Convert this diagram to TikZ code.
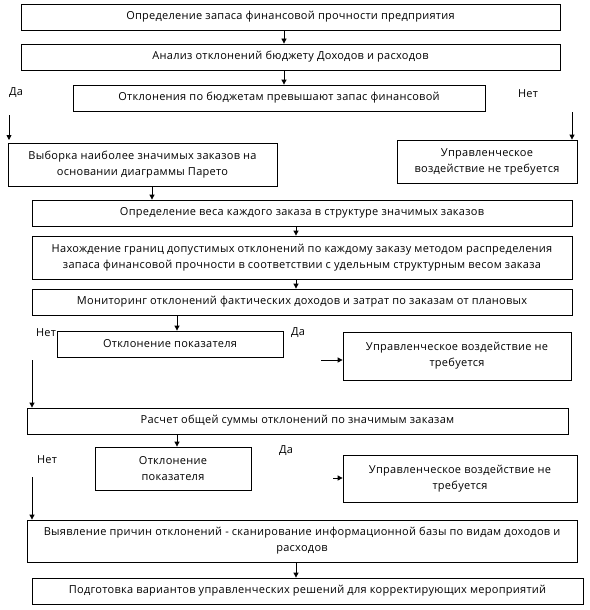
\documentclass[tikz,border=0pt]{standalone}
\usepackage{fontspec}
\setmainfont{Open Sans}[LetterSpace=2.5]
\usetikzlibrary{arrows.meta}
\begin{document}
\begin{tikzpicture}[x=1pt,y=-1pt,
  box/.style={draw=black, line width=0.8pt, fill=white, inner sep=0pt, align=center,
              font=\fontsize{11}{16}\selectfont},
  arr/.style={draw=black, line width=0.8pt, -{Triangle[length=5pt,width=5pt]}},
  lbl/.style={font=\fontsize{11}{12}\selectfont, inner sep=0pt}]
\useasboundingbox (0,0) rectangle (589,610);
% labels
\node[lbl] (l1) at (16,93) {Да};
\node[lbl] (l2) at (528,94) {Нет};
\node[lbl] (l3) at (46,333) {Нет};
\node[lbl] (l4) at (298,333) {Да};
\node[lbl] (l5) at (47,460) {Нет};
\node[lbl] (l6) at (286,451) {Да};
% boxes
\node[box, minimum width=539, minimum height=26] (b1) at (290.5,17) {Определение запаса финансовой прочности предприятия};
\node[box, minimum width=539, minimum height=26] (b2) at (290.5,57) {Анализ отклонений бюджету Доходов и расходов};
\node[box, minimum width=412, minimum height=26] (b3) at (279,98) {Отклонения по бюджетам превышают запас финансовой};
\node[box, minimum width=269, minimum height=43] (b4) at (142.5,164.5) {Выборка наиболее значимых заказов на\\основании диаграммы Парето};
\node[box, minimum width=180, minimum height=43] (b5) at (487,161.5) {Управленческое\\воздействие не требуется};
\node[box, minimum width=540, minimum height=26] (b6) at (302,213) {Определение веса каждого заказа в структуре значимых заказов};
\node[box, minimum width=540, minimum height=43] (b7) at (302,257.5) {Нахождение границ допустимых отклонений по каждому заказу методом распределения\\запаса финансовой прочности в соответствии с удельным структурным весом заказа};
\node[box, minimum width=540, minimum height=26] (b8) at (302,302) {Мониторинг отклонений фактических доходов и затрат по заказам от плановых};
\node[box, minimum width=226, minimum height=26] (b9) at (170,344) {Отклонение показателя};
\node[box, minimum width=228, minimum height=48] (b10) at (457,356) {Управленческое воздействие не\\требуется};
\node[box, minimum width=541, minimum height=26] (b11) at (297.5,421) {Расчет общей суммы отклонений по значимым заказам};
\node[box, minimum width=156, minimum height=43] (b12) at (173,468.5) {Отклонение\\показателя};
\node[box, minimum width=234, minimum height=47] (b13) at (460,478.5) {Управленческое воздействие не\\требуется};
\node[box, minimum width=550, minimum height=42] (b14) at (302,541) {Выявление причин отклонений - сканирование информационной базы по видам доходов и\\расходов};
\node[box, minimum width=551, minimum height=26] (b15) at (307.5,591) {Подготовка вариантов управленческих решений для корректирующих мероприятий};
% helper coordinates
\coordinate (x284) at (284,0);
\coordinate (x152) at (152,0);
\coordinate (x296) at (296,0);
\coordinate (x177) at (177,0);
\coordinate (s1) at (9,115);
\coordinate (e1) at (9,140);
\coordinate (s2) at (572,112);
\coordinate (s3) at (32,360);
\coordinate (s4) at (321,360);
\coordinate (s5) at (32,477);
\coordinate (s6) at (333,478);
% connectors
\draw[arr] (b1.south -| x284) -- (b2.north -| x284);
\draw[arr] (b2.south -| x284) -- (b3.north -| x284);
\draw[arr] (s1) -- (e1);
\draw[arr] (s2) -- (b5.north -| s2);
\draw[arr] (b4.south -| x152) -- (b6.north -| x152);
\draw[arr] (b6.south -| x296) -- (b7.north -| x296);
\draw[arr] (b7.south -| x296) -- (b8.north -| x296);
\draw[arr] (b8.south -| x177) -- (b9.north -| x177);
\draw[arr] (s3) -- (b11.north -| s3);
\draw[arr] (s4) -- (b10.west |- s4);
\draw[arr] (b11.south -| x177) -- (b12.north -| x177);
\draw[arr] (s5) -- (b14.north -| s5);
\draw[arr] (s6) -- (b13.west |- s6);
\draw[arr] (b14.south -| x296) -- (b15.north -| x296);
\end{tikzpicture}
\end{document}
